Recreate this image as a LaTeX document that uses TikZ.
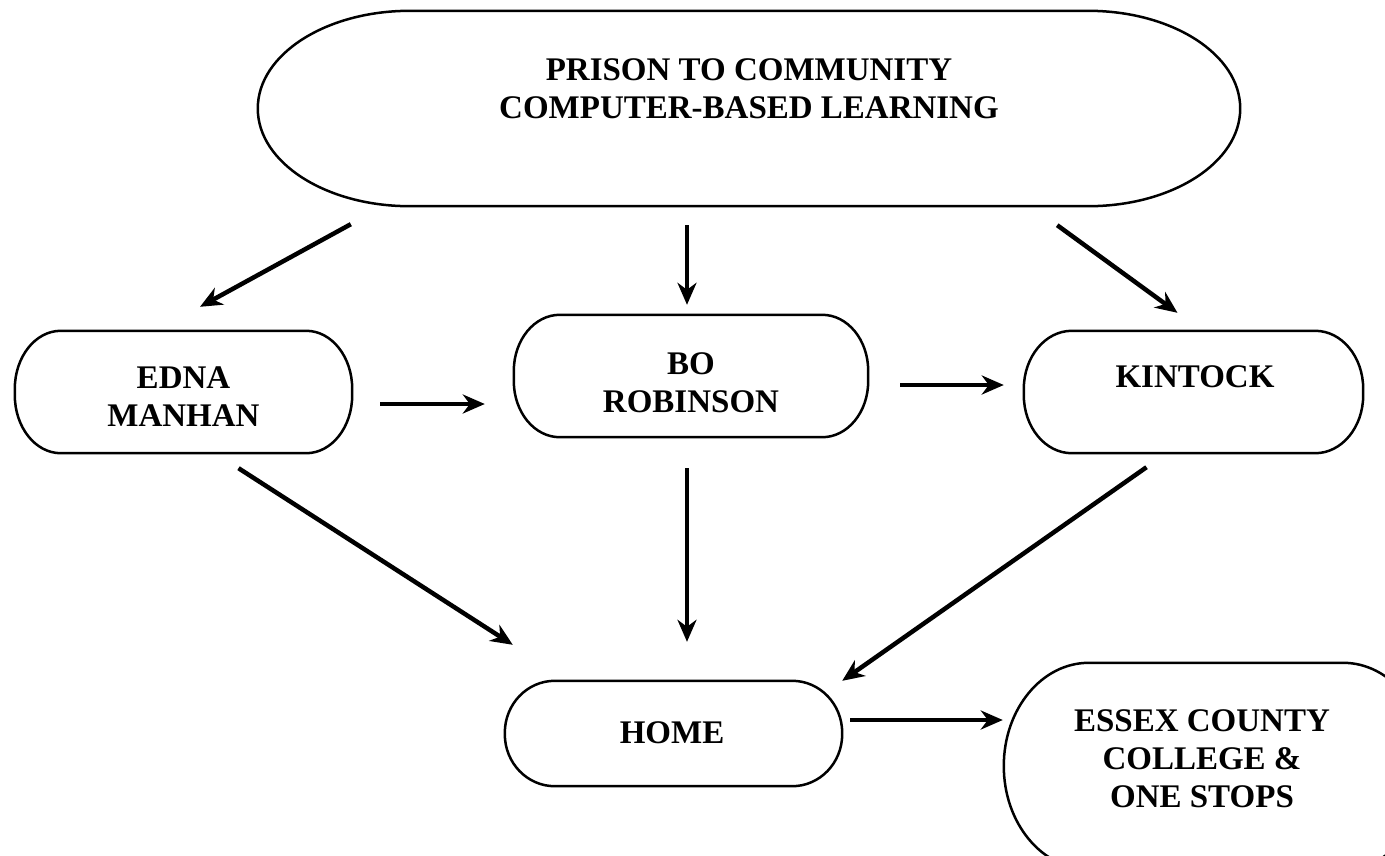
\documentclass[tikz,border=0pt]{standalone}
\usepackage{fontspec}
\setmainfont{Liberation Serif}
\usetikzlibrary{arrows.meta,calc}

\tikzset{
  pillbox/.style 2 args={minimum width=#1pt,minimum height=#2pt,inner sep=0pt},
  pillline/.style={line width=2.5pt},
  lbl/.style={font=\bfseries\fontsize{33}{38}\selectfont,align=center,inner sep=0pt},
  arr/.style={line width=4.5pt,-{Stealth[length=22pt,width=19pt,inset=7pt]}},
  thinarr/.style={arr,line width=3.5pt},
}

% pill outline round a named node: #1 name, #2 x radius, #3 y radius
% (angles and yshift run the other way, as y points down)
\newcommand{\pill}[3]{%
  \draw[pillline] ([xshift=#2]#1.north west) -- ([xshift=-#2]#1.north east)
    arc[start angle=-90,end angle=0,x radius=#2,y radius=#3]
    -- ([yshift=-#3]#1.south east)
    arc[start angle=0,end angle=90,x radius=#2,y radius=#3]
    -- ([xshift=#2]#1.south west)
    arc[start angle=90,end angle=180,x radius=#2,y radius=#3]
    -- ([yshift=#3]#1.north west)
    arc[start angle=180,end angle=270,x radius=#2,y radius=#3]
    -- cycle;}

\begin{document}
\begin{tikzpicture}[x=1pt,y=1pt,yscale=-1,xscale=1]
\useasboundingbox (0,0) rectangle (1385,855);
\clip (0,0) rectangle (1385,855);

%Shape: Boxes
\node [pillbox={982}{195}] (prog) at (749,108.5) {};
\node [pillbox={337}{122}] (edna) at (183.5,392) {};
\node [pillbox={354}{122}] (bo) at (691,376) {};
\node [pillbox={339}{122}] (kin) at (1193.5,392) {};
\node [pillbox={337}{105}] (home) at (673.5,733.5) {};
\node [pillbox={424}{206}] (essex) at (1216,766) {};

\pill{prog}{152pt}{97.5pt}
\pill{edna}{46pt}{58pt}
\pill{bo}{46pt}{56pt}
\pill{kin}{48pt}{58pt}
\pill{home}{50pt}{52pt}
\pill{essex}{85pt}{103pt}

% Text Node
\node [lbl] (prog-t) at (749,88.5) {PRISON TO COMMUNITY\\COMPUTER-BASED LEARNING};
% Text Node
\node [lbl] (edna-t) at (183.5,396.5) {EDNA\\MANHAN};
% Text Node
\node [lbl] (bo-t) at (691,382.5) {BO\\ROBINSON};
% Text Node
\node [lbl] (kin-t) at (1195,376.5) {KINTOCK};
% Text Node
\node [lbl] (home-t) at (672,732.5) {HOME};
% Text Node
\node [lbl] (essex-t) at (1202,758.5) {ESSEX COUNTY\\COLLEGE \&\\ONE STOPS};

%Straight Lines: from the top box
\draw [arr] ($(prog.south west)+(93,18)$) -- ($(edna.north)+(16.5,-24)$);
\draw [thinarr] ($(prog.south)+(-62,19)$) -- ($(bo.north)+(-4,-10)$);
\draw [arr] ($(prog.south east)+(-183,19)$) -- ($(kin.north)+(-16,-18)$);
%Straight Lines: across the middle row
\draw [arr] ($(edna.east)+(28,12)$) -- ($(bo.west)+(-29,28)$);
\draw [arr] ($(bo.east)+(32,9)$) -- ($(kin.west)+(-20,-7)$);
%Straight Lines: down to home
\draw [arr] ($(edna.south)+(55,15)$) -- ($(home.north west)+(8,-36)$);
\draw [thinarr] ($(bo.south)+(-4,31)$) -- ($(home.north)+(13.5,-39)$);
\draw [arr] ($(kin.south)+(-47,14)$) -- (home.north east);
%Straight Lines: home to college
\draw [arr] ($(home.east)+(8,-13.5)$) -- ($(essex.west)+(-1,-46)$);

\end{tikzpicture}
\end{document}
